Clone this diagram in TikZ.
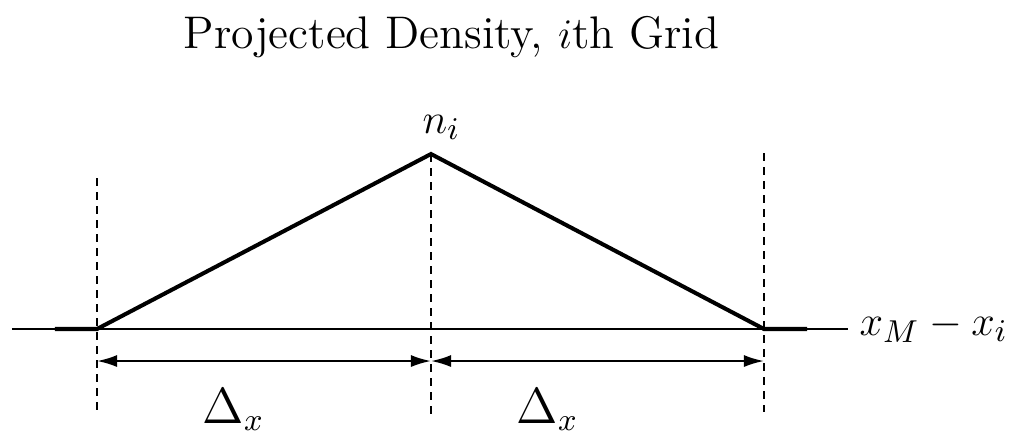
\documentclass[tikz,border=0pt]{standalone}
\usetikzlibrary{arrows.meta}
\tikzset{
  grid line/.style={dash pattern=on 0.08cm off 0.06cm, line width=0.55pt},
  span arrow/.style={{Latex[length=0.2cm,width=0.12cm]}-{Latex[length=0.2cm,width=0.12cm]}, line width=0.6pt},
  label text/.style={inner sep=0pt, anchor=base west, font=\fontsize{13}{15}\selectfont}
}
\begin{document}
\begin{tikzpicture}[x=0.01cm, y=-0.01cm]
  \useasboundingbox (0,0) rectangle (1020,432);
  \node[label text] (title) at (183,48) {Projected Density, $i$th Grid};
  % axis and grid points
  \coordinate (axl) at (12,329);
  \coordinate (axr) at (848,329);
  \coordinate (left) at (97,329);
  \coordinate (peak) at (431,154);
  \coordinate (right) at (764,329);
  \draw[line width=0.55pt] (axl) -- (axr);
  \draw[line width=1.15pt] (55,329) -- (left) -- (peak) -- (right) -- (807,329);
  \draw[grid line] (97,178) -- (97,412);
  \draw[grid line] (peak) -- (431,420);
  \draw[grid line] (764,153) -- (764,412);
  \coordinate (al) at (97,361);
  \coordinate (am) at (431,361);
  \coordinate (ar) at (764,361);
  \draw[span arrow] (al) -- (am);
  \draw[span arrow] (am) -- (ar);
  \node[label text] (ni) at (422,133) {$n_i$};
  \node[label text, font=\fontsize{13.2}{16}\selectfont] (xm) at (859,335) {$x_M - x_i$};
  \node[label text, font=\fontsize{13.5}{16}\selectfont] (dl) at (202,423) {$\Delta_x$};
  \node[label text, font=\fontsize{13.5}{16}\selectfont] (dr) at (516,423) {$\Delta_x$};
\end{tikzpicture}
\end{document}
